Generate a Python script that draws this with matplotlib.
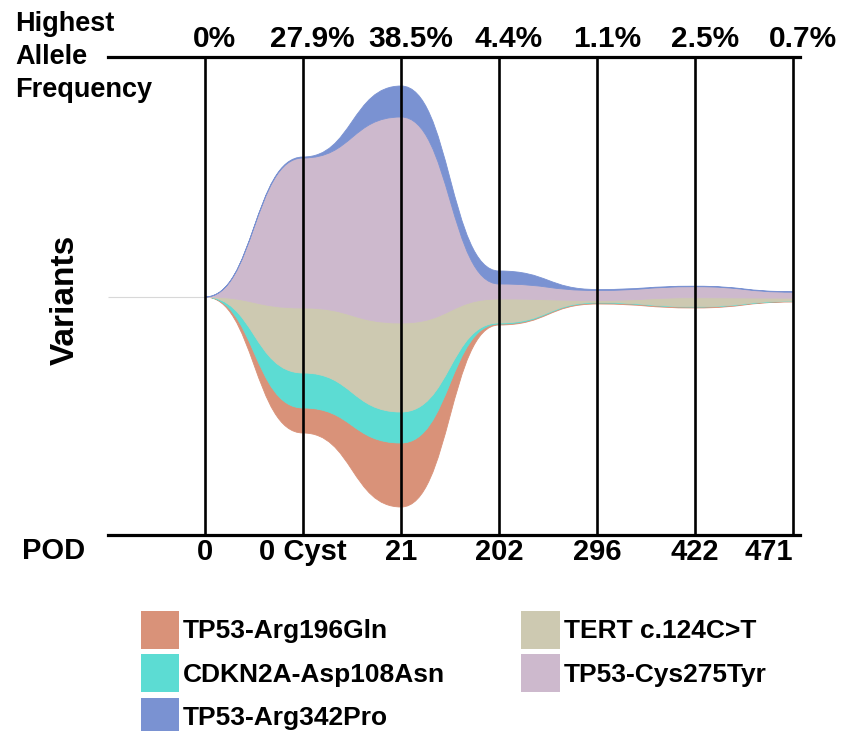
import matplotlib.pyplot as plt
from matplotlib.path import Path
from matplotlib.patches import PathPatch, Patch
from matplotlib import transforms

plt.rcParams['font.family'] = ['Liberation Sans', 'DejaVu Sans']
plt.rcParams['font.weight'] = 'bold'

# time points (post-operative day) and highest allele frequency per sample
pod_labels = ['0', '0 Cyst', '21', '202', '296', '422', '471']
max_af = ['0%', '27.9%', '38.5%', '4.4%', '1.1%', '2.5%', '0.7%']

# stream thickness of each variant at each sample (bottom to top)
arg196gln = [0, 25, 64, 1, 1, 1, 0.5]
cdkn2a = [0, 35, 31, 1, 0.5, 0.3, 0.3]
tert = [0, 65, 89, 24, 2, 9, 3]
cys275tyr = [0, 150, 206, 15, 10, 11, 6]
arg342pro = [0, 1, 31, 13, 1, 0.5, 0.5]
# lower edge of the whole stream
stream_floor = [0, -136, -210, -28, -7, -11, -5]

layers = [arg196gln, cdkn2a, tert, cys275tyr, arg342pro]
names = ['TP53-Arg196Gln', 'CDKN2A-Asp108Asn', 'TERT c.124C>T',
         'TP53-Cys275Tyr', 'TP53-Arg342Pro']
colors = ['#d99279', '#5cdcd3', '#cdc9b1', '#cdb9cd', '#7a92d2']


def stream_patch(x, lower, upper, color):
    # smooth band: cubic curves with flat tangents at every sample
    h = 0.5
    verts = [(x[0], upper[0])]
    codes = [Path.MOVETO]
    for i in range(len(x) - 1):
        verts += [(x[i] + h, upper[i]), (x[i + 1] - h, upper[i + 1]), (x[i + 1], upper[i + 1])]
        codes += [Path.CURVE4] * 3
    verts.append((x[-1], lower[-1]))
    codes.append(Path.LINETO)
    for i in range(len(x) - 1, 0, -1):
        verts += [(x[i] - h, lower[i]), (x[i - 1] + h, lower[i - 1]), (x[i - 1], lower[i - 1])]
        codes += [Path.CURVE4] * 3
    verts.append((x[0], upper[0]))
    codes.append(Path.CLOSEPOLY)
    return PathPatch(Path(verts, codes), facecolor=color, edgecolor=color, lw=0.6)


fig = plt.figure(figsize=(8.43, 7.31), dpi=100)
ax = fig.add_axes([108 / 843, 196 / 731, 692 / 843, 478 / 731])

x = list(range(len(pod_labels)))
lower = list(stream_floor)
for vals, c in zip(layers, colors):
    upper = [a + b for a, b in zip(lower, vals)]
    ax.add_patch(stream_patch(x, lower, upper, c))
    lower = upper

ax.set_xlim(-0.99, 6.07)
ax.set_ylim(-238, 240)

# thin guide line before the first sample
ax.hlines(0, -0.99, 0, color='#d8d8d8', lw=0.8)

for xi in x:
    ax.axvline(xi, color='black', lw=1.9, zorder=5)

for s in ['left', 'right']:
    ax.spines[s].set_visible(False)
for s in ['top', 'bottom']:
    ax.spines[s].set_linewidth(2.3)
ax.set_xticks([])
ax.set_yticks([])

trans = transforms.blended_transform_factory(ax.transData, ax.transAxes)
for xi, lab in zip(x, max_af):
    ax.annotate(lab, (xi, 1), xytext=(7, 13), textcoords='offset points',
                xycoords=trans, ha='center', va='center', fontsize=21.5)
for xi, lab in zip(x, pod_labels):
    ha = 'right' if xi == x[-1] else 'center'
    ax.annotate(lab, (xi, 0), xytext=(0, -12), textcoords='offset points',
                xycoords=trans, ha=ha, va='center', fontsize=21)

fig.text(15 / 843, 1 - 11 / 731, 'Highest\nAllele\nFrequency', ha='left', va='top',
         fontsize=19.5, linespacing=1.36)
fig.text(22 / 843, 1 - 551 / 731, 'POD', ha='left', va='center', fontsize=21)
fig.text(65 / 843, 1 - 300 / 731, 'Variants', ha='center', va='center',
         rotation=90, fontsize=24)

order = [0, 1, 4, 2, 3]
handles = [Patch(facecolor=colors[i], edgecolor='none') for i in order]
labels = [names[i] for i in order]
fig.legend(handles, labels, loc='upper left', bbox_to_anchor=(130 / 843, 1 - 600 / 731),
           ncol=2, frameon=False, prop={'weight': 'bold', 'size': 19},
           handlelength=1.45, handleheight=1.85, handletextpad=0.15,
           labelspacing=0.2, columnspacing=2.9, borderaxespad=0)

fig.savefig('out.png', dpi=100)
